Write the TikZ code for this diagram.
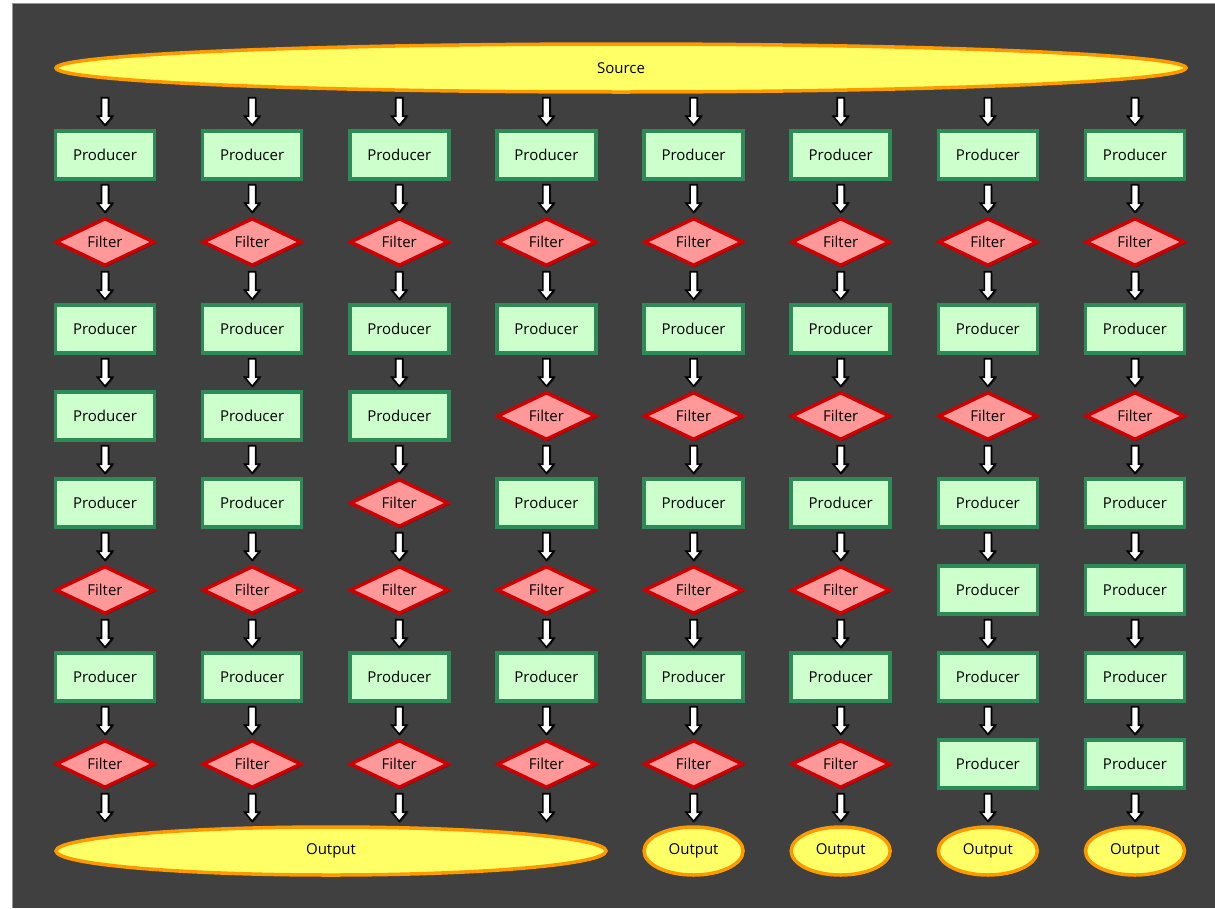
\documentclass[tikz,border=0pt]{standalone}
\usepackage{fontspec}
\setmainfont{Open Sans}
\usetikzlibrary{shapes.geometric,shadows,calc}
\definecolor{bg}{RGB}{64,64,64}
\definecolor{bgline}{RGB}{150,150,150}
\definecolor{pfill}{RGB}{204,255,204}
\definecolor{pdraw}{RGB}{46,139,87}
\definecolor{ffill}{RGB}{255,153,153}
\definecolor{fdraw}{RGB}{204,0,0}
\definecolor{efill}{RGB}{255,255,102}
\definecolor{edraw}{RGB}{255,153,0}
\begin{document}
\begin{tikzpicture}[x=1pt,y=-1pt,
  shad/.style={drop shadow={shadow xshift=1.5pt,shadow yshift=-1.5pt,opacity=0.5,fill=black}},
  lbl/.style={font=\fontsize{15}{18}\selectfont, text=black},
  prod/.style={rectangle, draw=pdraw, fill=pfill, line width=3.5pt, minimum width=99pt, minimum height=48pt, inner sep=0pt, shad, lbl},
  filt/.style={diamond, aspect=2, draw=fdraw, fill=ffill, line width=3.5pt, minimum width=99pt, minimum height=48pt, inner sep=0pt, shad, lbl},
  term/.style={ellipse, draw=edraw, fill=efill, line width=3.5pt, minimum height=48pt, inner sep=0pt, shad, lbl},
  fat/.style={draw=black, fill=white, line width=1.6pt, line join=miter,
    drop shadow={shadow xshift=1.2pt,shadow yshift=-1.2pt,opacity=0.5,fill=black},
    to path={let \p1=(\tikztostart), \p2=(\tikztotarget) in
      (\x1-3.5pt,\y1-4pt) -- (\x1-3.5pt,\y2+13pt) -- (\x1-7.5pt,\y2+13pt) -- (\x1,\y2+4pt)
      -- (\x1+7.5pt,\y2+13pt) -- (\x1+3.5pt,\y2+13pt) -- (\x1+3.5pt,\y1-4pt) -- cycle}}
]
\useasboundingbox (0,0) rectangle (1215,908);
\fill[bg] (12,3) rectangle (1215,908);
\draw[bgline, line width=0.8pt] (12,3) -- (12,908);
\draw[bgline, line width=0.8pt] (12,3) -- (1215,3);

\node[term, minimum width=1130pt] (src) at (621,68) {Source};
\node[term, minimum width=550pt] (outA) at (331,851) {Output};

\foreach \c in {1,...,8}{
  \pgfmathsetmacro\xx{105+(\c-1)*147.14}
  \foreach \r in {1,...,8}{
    \pgfmathsetmacro\yy{155+(\r-1)*87}
    \pgfmathtruncatemacro\isf{((\r==2) || (\r==4 && \c>3) || (\r==5 && \c==3) || ((\r==6 || \r==8) && \c<7)) ? 1 : 0}
    \ifnum\isf=1
      \node[filt] (n\c\r) at (\xx,\yy) {Filter};
    \else
      \node[prod] (n\c\r) at (\xx,\yy) {Producer};
    \fi
  }
}
\foreach \c in {5,...,8}{
  \pgfmathsetmacro\xx{105+(\c-1)*147.14}
  \node[term, minimum width=99pt] (out\c) at (\xx,851) {Output};
}
\foreach \c in {1,...,8}{
  \coordinate (s\c) at (src.south -| n\c1.north);
}
\foreach \c in {1,...,4}{
  \coordinate (t\c) at (outA.north -| n\c8.south);
}
\foreach \c in {1,...,8}{
  \draw[fat] (s\c) to (n\c1.north);
  \foreach \r in {1,...,7}{
    \pgfmathtruncatemacro\rn{\r+1}
    \draw[fat] (n\c\r.south) to (n\c\rn.north);
  }
}
\foreach \c in {1,...,4}{ \draw[fat] (n\c8.south) to (t\c); }
\foreach \c in {5,...,8}{ \draw[fat] (n\c8.south) to (out\c.north); }
\end{tikzpicture}
\end{document}
